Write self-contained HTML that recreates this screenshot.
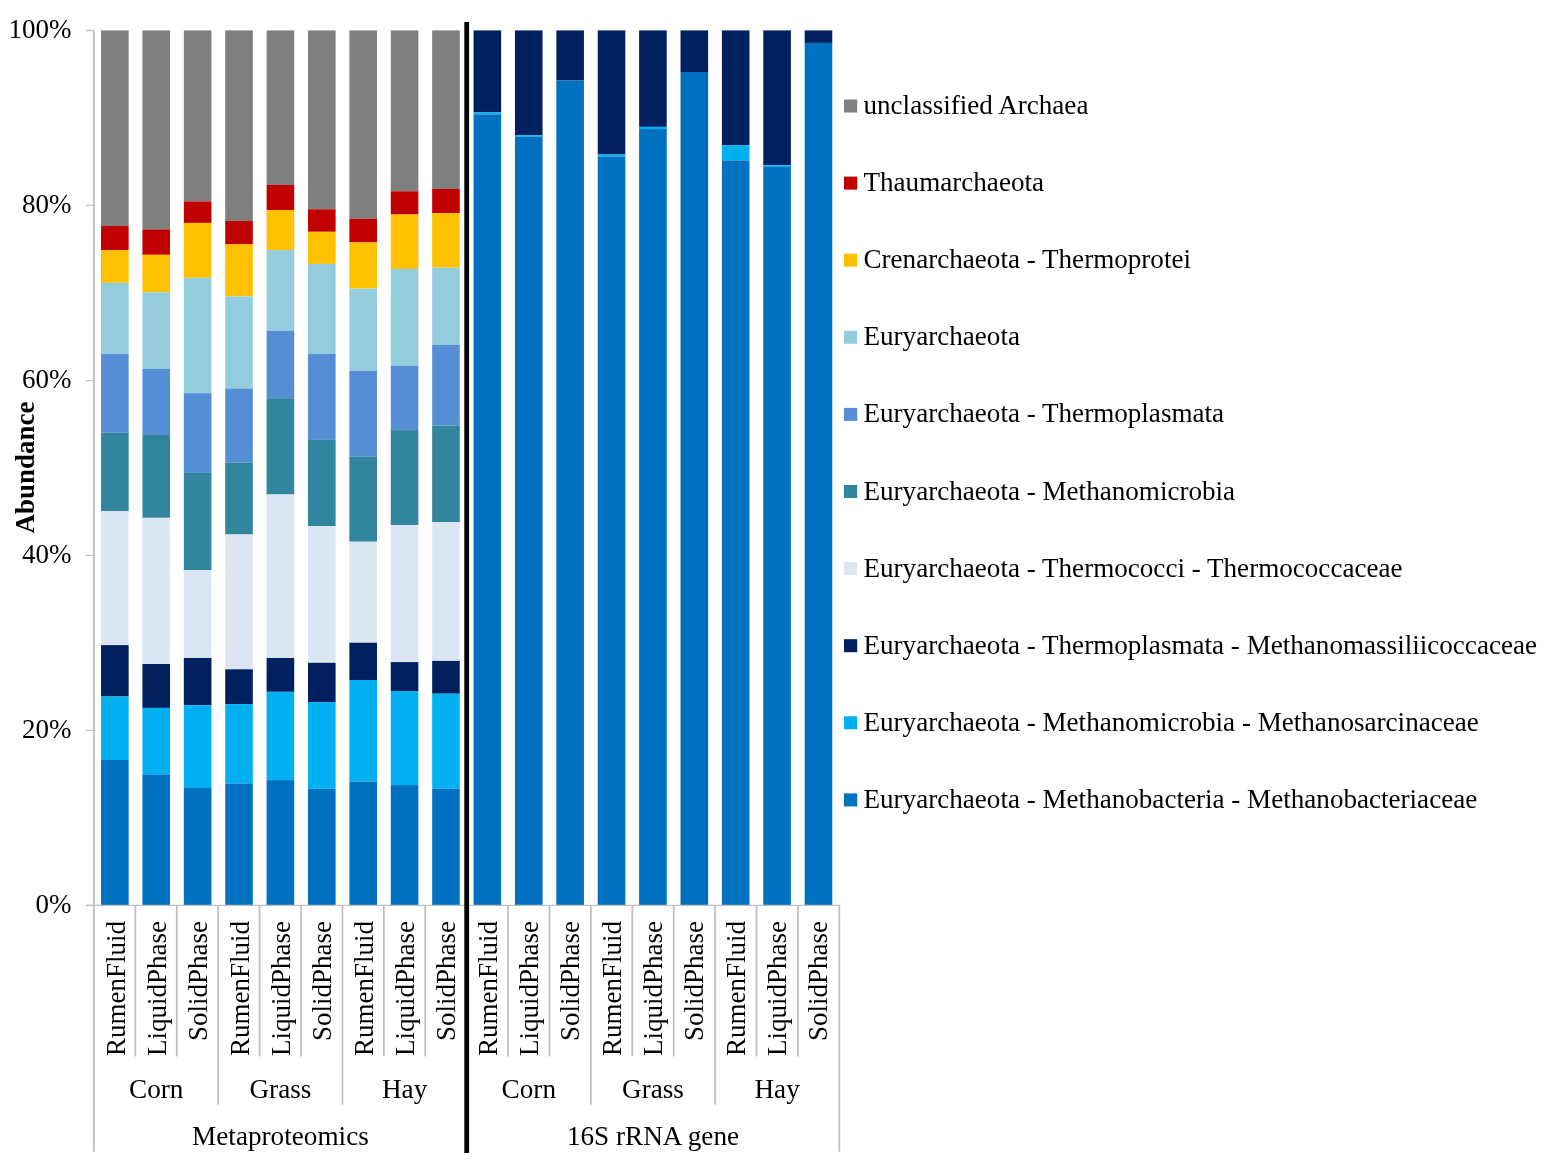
<!DOCTYPE html>
<html><head><meta charset="utf-8"><title>Archaea abundance</title>
<style>
html,body{margin:0;padding:0;background:#fff;}
body{width:1547px;height:1163px;overflow:hidden;}
svg{display:block;}
.t{font-family:"Liberation Serif", "Times New Roman", serif;font-size:27px;fill:#000;}
.lg{font-size:27.1px;}
.gl{font-size:27.2px;}
</style></head><body>
<svg width="1547" height="1163" viewBox="0 0 1547 1163">
<rect width="1547" height="1163" fill="#fff"/>
<rect x="101.05" y="30.4" width="27.6" height="195.6" fill="#7f7f7f"/>
<rect x="101.05" y="226" width="27.6" height="24.1" fill="#c00000"/>
<rect x="101.05" y="250.1" width="27.6" height="32.7" fill="#ffc000"/>
<rect x="101.05" y="282.8" width="27.6" height="71.2" fill="#93cddd"/>
<rect x="101.05" y="354" width="27.6" height="78.8" fill="#558ed5"/>
<rect x="101.05" y="432.8" width="27.6" height="78.3" fill="#31859c"/>
<rect x="101.05" y="511.1" width="27.6" height="134" fill="#dce6f2"/>
<rect x="101.05" y="645.1" width="27.6" height="51.4" fill="#002060"/>
<rect x="101.05" y="696.5" width="27.6" height="63.5" fill="#00b0f0"/>
<rect x="101.05" y="760" width="27.6" height="145.2" fill="#0070c0"/>
<rect x="142.44" y="30.4" width="27.6" height="199" fill="#7f7f7f"/>
<rect x="142.44" y="229.4" width="27.6" height="25.4" fill="#c00000"/>
<rect x="142.44" y="254.8" width="27.6" height="37.6" fill="#ffc000"/>
<rect x="142.44" y="292.4" width="27.6" height="76.6" fill="#93cddd"/>
<rect x="142.44" y="369" width="27.6" height="65.9" fill="#558ed5"/>
<rect x="142.44" y="434.9" width="27.6" height="82.9" fill="#31859c"/>
<rect x="142.44" y="517.8" width="27.6" height="146.2" fill="#dce6f2"/>
<rect x="142.44" y="664" width="27.6" height="43.9" fill="#002060"/>
<rect x="142.44" y="707.9" width="27.6" height="66.5" fill="#00b0f0"/>
<rect x="142.44" y="774.4" width="27.6" height="130.8" fill="#0070c0"/>
<rect x="183.83" y="30.4" width="27.6" height="171" fill="#7f7f7f"/>
<rect x="183.83" y="201.4" width="27.6" height="21.5" fill="#c00000"/>
<rect x="183.83" y="222.9" width="27.6" height="54.9" fill="#ffc000"/>
<rect x="183.83" y="277.8" width="27.6" height="115.4" fill="#93cddd"/>
<rect x="183.83" y="393.2" width="27.6" height="79.7" fill="#558ed5"/>
<rect x="183.83" y="472.9" width="27.6" height="97.3" fill="#31859c"/>
<rect x="183.83" y="570.2" width="27.6" height="87.8" fill="#dce6f2"/>
<rect x="183.83" y="658" width="27.6" height="47.2" fill="#002060"/>
<rect x="183.83" y="705.2" width="27.6" height="82.8" fill="#00b0f0"/>
<rect x="183.83" y="788" width="27.6" height="117.2" fill="#0070c0"/>
<rect x="225.22" y="30.4" width="27.6" height="190.6" fill="#7f7f7f"/>
<rect x="225.22" y="221" width="27.6" height="23.3" fill="#c00000"/>
<rect x="225.22" y="244.3" width="27.6" height="52.1" fill="#ffc000"/>
<rect x="225.22" y="296.4" width="27.6" height="92.2" fill="#93cddd"/>
<rect x="225.22" y="388.6" width="27.6" height="74.1" fill="#558ed5"/>
<rect x="225.22" y="462.7" width="27.6" height="71.8" fill="#31859c"/>
<rect x="225.22" y="534.5" width="27.6" height="134.8" fill="#dce6f2"/>
<rect x="225.22" y="669.3" width="27.6" height="34.8" fill="#002060"/>
<rect x="225.22" y="704.1" width="27.6" height="79.4" fill="#00b0f0"/>
<rect x="225.22" y="783.5" width="27.6" height="121.7" fill="#0070c0"/>
<rect x="266.61" y="30.4" width="27.6" height="154.5" fill="#7f7f7f"/>
<rect x="266.61" y="184.9" width="27.6" height="25.1" fill="#c00000"/>
<rect x="266.61" y="210" width="27.6" height="40.1" fill="#ffc000"/>
<rect x="266.61" y="250.1" width="27.6" height="80.8" fill="#93cddd"/>
<rect x="266.61" y="330.9" width="27.6" height="67.3" fill="#558ed5"/>
<rect x="266.61" y="398.2" width="27.6" height="96.3" fill="#31859c"/>
<rect x="266.61" y="494.5" width="27.6" height="163.5" fill="#dce6f2"/>
<rect x="266.61" y="658" width="27.6" height="33.8" fill="#002060"/>
<rect x="266.61" y="691.8" width="27.6" height="88.3" fill="#00b0f0"/>
<rect x="266.61" y="780.1" width="27.6" height="125.1" fill="#0070c0"/>
<rect x="308" y="30.4" width="27.6" height="178.9" fill="#7f7f7f"/>
<rect x="308" y="209.3" width="27.6" height="22.5" fill="#c00000"/>
<rect x="308" y="231.8" width="27.6" height="32.1" fill="#ffc000"/>
<rect x="308" y="263.9" width="27.6" height="90.1" fill="#93cddd"/>
<rect x="308" y="354" width="27.6" height="85.9" fill="#558ed5"/>
<rect x="308" y="439.9" width="27.6" height="86.3" fill="#31859c"/>
<rect x="308" y="526.2" width="27.6" height="136.6" fill="#dce6f2"/>
<rect x="308" y="662.8" width="27.6" height="39.3" fill="#002060"/>
<rect x="308" y="702.1" width="27.6" height="86.6" fill="#00b0f0"/>
<rect x="308" y="788.7" width="27.6" height="116.5" fill="#0070c0"/>
<rect x="349.39" y="30.4" width="27.6" height="188.4" fill="#7f7f7f"/>
<rect x="349.39" y="218.8" width="27.6" height="23.6" fill="#c00000"/>
<rect x="349.39" y="242.4" width="27.6" height="46.2" fill="#ffc000"/>
<rect x="349.39" y="288.6" width="27.6" height="82.3" fill="#93cddd"/>
<rect x="349.39" y="370.9" width="27.6" height="85.8" fill="#558ed5"/>
<rect x="349.39" y="456.7" width="27.6" height="85" fill="#31859c"/>
<rect x="349.39" y="541.7" width="27.6" height="101" fill="#dce6f2"/>
<rect x="349.39" y="642.7" width="27.6" height="37.3" fill="#002060"/>
<rect x="349.39" y="680" width="27.6" height="101.6" fill="#00b0f0"/>
<rect x="349.39" y="781.6" width="27.6" height="123.6" fill="#0070c0"/>
<rect x="390.78" y="30.4" width="27.6" height="160.9" fill="#7f7f7f"/>
<rect x="390.78" y="191.3" width="27.6" height="23.2" fill="#c00000"/>
<rect x="390.78" y="214.5" width="27.6" height="54.4" fill="#ffc000"/>
<rect x="390.78" y="268.9" width="27.6" height="96.8" fill="#93cddd"/>
<rect x="390.78" y="365.7" width="27.6" height="64.4" fill="#558ed5"/>
<rect x="390.78" y="430.1" width="27.6" height="94.9" fill="#31859c"/>
<rect x="390.78" y="525" width="27.6" height="137.1" fill="#dce6f2"/>
<rect x="390.78" y="662.1" width="27.6" height="28.9" fill="#002060"/>
<rect x="390.78" y="691" width="27.6" height="94.1" fill="#00b0f0"/>
<rect x="390.78" y="785.1" width="27.6" height="120.1" fill="#0070c0"/>
<rect x="432.17" y="30.4" width="27.6" height="158.5" fill="#7f7f7f"/>
<rect x="432.17" y="188.9" width="27.6" height="24.2" fill="#c00000"/>
<rect x="432.17" y="213.1" width="27.6" height="54.6" fill="#ffc000"/>
<rect x="432.17" y="267.7" width="27.6" height="77.2" fill="#93cddd"/>
<rect x="432.17" y="344.9" width="27.6" height="80.7" fill="#558ed5"/>
<rect x="432.17" y="425.6" width="27.6" height="96.7" fill="#31859c"/>
<rect x="432.17" y="522.3" width="27.6" height="138.6" fill="#dce6f2"/>
<rect x="432.17" y="660.9" width="27.6" height="32.8" fill="#002060"/>
<rect x="432.17" y="693.7" width="27.6" height="95" fill="#00b0f0"/>
<rect x="432.17" y="788.7" width="27.6" height="116.5" fill="#0070c0"/>
<rect x="473.56" y="30.4" width="27.6" height="82" fill="#002060"/>
<rect x="473.56" y="112.4" width="27.6" height="2" fill="#00b0f0"/>
<rect x="473.56" y="114.4" width="27.6" height="790.8" fill="#0070c0"/>
<rect x="514.95" y="30.4" width="27.6" height="104.8" fill="#002060"/>
<rect x="514.95" y="135.2" width="27.6" height="1.4" fill="#00b0f0"/>
<rect x="514.95" y="136.6" width="27.6" height="768.6" fill="#0070c0"/>
<rect x="556.34" y="30.4" width="27.6" height="50.1" fill="#002060"/>
<rect x="556.34" y="80.5" width="27.6" height="824.7" fill="#0070c0"/>
<rect x="597.73" y="30.4" width="27.6" height="124.1" fill="#002060"/>
<rect x="597.73" y="154.5" width="27.6" height="2.1" fill="#00b0f0"/>
<rect x="597.73" y="156.6" width="27.6" height="748.6" fill="#0070c0"/>
<rect x="639.12" y="30.4" width="27.6" height="96.5" fill="#002060"/>
<rect x="639.12" y="126.9" width="27.6" height="2.1" fill="#00b0f0"/>
<rect x="639.12" y="129" width="27.6" height="776.2" fill="#0070c0"/>
<rect x="680.51" y="30.4" width="27.6" height="41.6" fill="#002060"/>
<rect x="680.51" y="72" width="27.6" height="833.2" fill="#0070c0"/>
<rect x="721.9" y="30.4" width="27.6" height="115" fill="#002060"/>
<rect x="721.9" y="145.4" width="27.6" height="15.1" fill="#00b0f0"/>
<rect x="721.9" y="160.5" width="27.6" height="744.7" fill="#0070c0"/>
<rect x="763.29" y="30.4" width="27.6" height="134.9" fill="#002060"/>
<rect x="763.29" y="165.3" width="27.6" height="1.7" fill="#00b0f0"/>
<rect x="763.29" y="167" width="27.6" height="738.2" fill="#0070c0"/>
<rect x="804.68" y="30.4" width="27.6" height="12.5" fill="#002060"/>
<rect x="804.68" y="42.9" width="27.6" height="862.3" fill="#0070c0"/>
<line x1="93.95" y1="30.5" x2="93.95" y2="1151.7" stroke="#bebebe" stroke-width="1.75"/>
<line x1="86" y1="905.4" x2="93.95" y2="905.4" stroke="#bebebe" stroke-width="1.3"/>
<text x="71.5" y="913.3" text-anchor="end" class="t">0%</text>
<line x1="86" y1="730.42" x2="93.95" y2="730.42" stroke="#bebebe" stroke-width="1.3"/>
<text x="71.5" y="738.32" text-anchor="end" class="t">20%</text>
<line x1="86" y1="555.44" x2="93.95" y2="555.44" stroke="#bebebe" stroke-width="1.3"/>
<text x="71.5" y="563.34" text-anchor="end" class="t">40%</text>
<line x1="86" y1="380.46" x2="93.95" y2="380.46" stroke="#bebebe" stroke-width="1.3"/>
<text x="71.5" y="388.36" text-anchor="end" class="t">60%</text>
<line x1="86" y1="205.48" x2="93.95" y2="205.48" stroke="#bebebe" stroke-width="1.3"/>
<text x="71.5" y="213.38" text-anchor="end" class="t">80%</text>
<line x1="86" y1="30.5" x2="93.95" y2="30.5" stroke="#bebebe" stroke-width="1.3"/>
<text x="71.5" y="38.4" text-anchor="end" class="t">100%</text>
<line x1="86" y1="905.4" x2="840.2" y2="905.4" stroke="#bebebe" stroke-width="1.3"/>
<line x1="135.36" y1="905.4" x2="135.36" y2="1056.4" stroke="#bebebe" stroke-width="1.75"/>
<line x1="176.77" y1="905.4" x2="176.77" y2="1056.4" stroke="#bebebe" stroke-width="1.75"/>
<line x1="218.18" y1="905.4" x2="218.18" y2="1104.6" stroke="#bebebe" stroke-width="1.75"/>
<line x1="259.59" y1="905.4" x2="259.59" y2="1056.4" stroke="#bebebe" stroke-width="1.75"/>
<line x1="301" y1="905.4" x2="301" y2="1056.4" stroke="#bebebe" stroke-width="1.75"/>
<line x1="342.41" y1="905.4" x2="342.41" y2="1104.6" stroke="#bebebe" stroke-width="1.75"/>
<line x1="383.82" y1="905.4" x2="383.82" y2="1056.4" stroke="#bebebe" stroke-width="1.75"/>
<line x1="425.23" y1="905.4" x2="425.23" y2="1056.4" stroke="#bebebe" stroke-width="1.75"/>
<line x1="508.05" y1="905.4" x2="508.05" y2="1056.4" stroke="#bebebe" stroke-width="1.75"/>
<line x1="549.46" y1="905.4" x2="549.46" y2="1056.4" stroke="#bebebe" stroke-width="1.75"/>
<line x1="590.87" y1="905.4" x2="590.87" y2="1104.6" stroke="#bebebe" stroke-width="1.75"/>
<line x1="632.28" y1="905.4" x2="632.28" y2="1056.4" stroke="#bebebe" stroke-width="1.75"/>
<line x1="673.69" y1="905.4" x2="673.69" y2="1056.4" stroke="#bebebe" stroke-width="1.75"/>
<line x1="715.1" y1="905.4" x2="715.1" y2="1104.6" stroke="#bebebe" stroke-width="1.75"/>
<line x1="756.51" y1="905.4" x2="756.51" y2="1056.4" stroke="#bebebe" stroke-width="1.75"/>
<line x1="797.92" y1="905.4" x2="797.92" y2="1056.4" stroke="#bebebe" stroke-width="1.75"/>
<line x1="839.33" y1="905.4" x2="839.33" y2="1151.7" stroke="#bebebe" stroke-width="1.75"/>
<rect x="464.3" y="22" width="4.8" height="1131" fill="#000"/>
<text transform="translate(124.5,921) rotate(-90)" text-anchor="end" class="t">RumenFluid</text>
<text transform="translate(165.85,921) rotate(-90)" text-anchor="end" class="t">LiquidPhase</text>
<text transform="translate(207.2,921) rotate(-90)" text-anchor="end" class="t">SolidPhase</text>
<text transform="translate(248.55,921) rotate(-90)" text-anchor="end" class="t">RumenFluid</text>
<text transform="translate(289.9,921) rotate(-90)" text-anchor="end" class="t">LiquidPhase</text>
<text transform="translate(331.25,921) rotate(-90)" text-anchor="end" class="t">SolidPhase</text>
<text transform="translate(372.6,921) rotate(-90)" text-anchor="end" class="t">RumenFluid</text>
<text transform="translate(413.95,921) rotate(-90)" text-anchor="end" class="t">LiquidPhase</text>
<text transform="translate(455.3,921) rotate(-90)" text-anchor="end" class="t">SolidPhase</text>
<text transform="translate(496.65,921) rotate(-90)" text-anchor="end" class="t">RumenFluid</text>
<text transform="translate(538,921) rotate(-90)" text-anchor="end" class="t">LiquidPhase</text>
<text transform="translate(579.35,921) rotate(-90)" text-anchor="end" class="t">SolidPhase</text>
<text transform="translate(620.7,921) rotate(-90)" text-anchor="end" class="t">RumenFluid</text>
<text transform="translate(662.05,921) rotate(-90)" text-anchor="end" class="t">LiquidPhase</text>
<text transform="translate(703.4,921) rotate(-90)" text-anchor="end" class="t">SolidPhase</text>
<text transform="translate(744.75,921) rotate(-90)" text-anchor="end" class="t">RumenFluid</text>
<text transform="translate(786.1,921) rotate(-90)" text-anchor="end" class="t">LiquidPhase</text>
<text transform="translate(827.45,921) rotate(-90)" text-anchor="end" class="t">SolidPhase</text>
<text x="156.28" y="1097.6" text-anchor="middle" class="t gl">Corn</text>
<text x="280.45" y="1097.6" text-anchor="middle" class="t gl">Grass</text>
<text x="404.62" y="1097.6" text-anchor="middle" class="t gl">Hay</text>
<text x="528.8" y="1097.6" text-anchor="middle" class="t gl">Corn</text>
<text x="652.97" y="1097.6" text-anchor="middle" class="t gl">Grass</text>
<text x="777.14" y="1097.6" text-anchor="middle" class="t gl">Hay</text>
<text x="280.45" y="1145" text-anchor="middle" class="t gl">Metaproteomics</text>
<text x="652.97" y="1145" text-anchor="middle" class="t gl">16S rRNA gene</text>
<text transform="translate(33.5,467.5) rotate(-90)" text-anchor="middle" class="t" font-weight="bold">Abundance</text>
<rect x="844" y="99.5" width="13.2" height="13" fill="#7f7f7f"/>
<text x="863.5" y="114" class="t lg">unclassified Archaea</text>
<rect x="844" y="176.6" width="13.2" height="13" fill="#c00000"/>
<text x="863.5" y="191.1" class="t lg">Thaumarchaeota</text>
<rect x="844" y="253.7" width="13.2" height="13" fill="#ffc000"/>
<text x="863.5" y="268.2" class="t lg">Crenarchaeota - Thermoprotei</text>
<rect x="844" y="330.8" width="13.2" height="13" fill="#93cddd"/>
<text x="863.5" y="345.3" class="t lg">Euryarchaeota</text>
<rect x="844" y="407.9" width="13.2" height="13" fill="#558ed5"/>
<text x="863.5" y="422.4" class="t lg">Euryarchaeota - Thermoplasmata</text>
<rect x="844" y="485" width="13.2" height="13" fill="#31859c"/>
<text x="863.5" y="499.5" class="t lg">Euryarchaeota - Methanomicrobia</text>
<rect x="844" y="562.1" width="13.2" height="13" fill="#dce6f2"/>
<text x="863.5" y="576.6" class="t lg">Euryarchaeota - Thermococci - Thermococcaceae</text>
<rect x="844" y="639.2" width="13.2" height="13" fill="#002060"/>
<text x="863.5" y="653.7" class="t lg">Euryarchaeota - Thermoplasmata - Methanomassiliicoccaceae</text>
<rect x="844" y="716.3" width="13.2" height="13" fill="#00b0f0"/>
<text x="863.5" y="730.8" class="t lg">Euryarchaeota - Methanomicrobia - Methanosarcinaceae</text>
<rect x="844" y="793.4" width="13.2" height="13" fill="#0070c0"/>
<text x="863.5" y="807.9" class="t lg">Euryarchaeota - Methanobacteria - Methanobacteriaceae</text>
</svg>
</body></html>
